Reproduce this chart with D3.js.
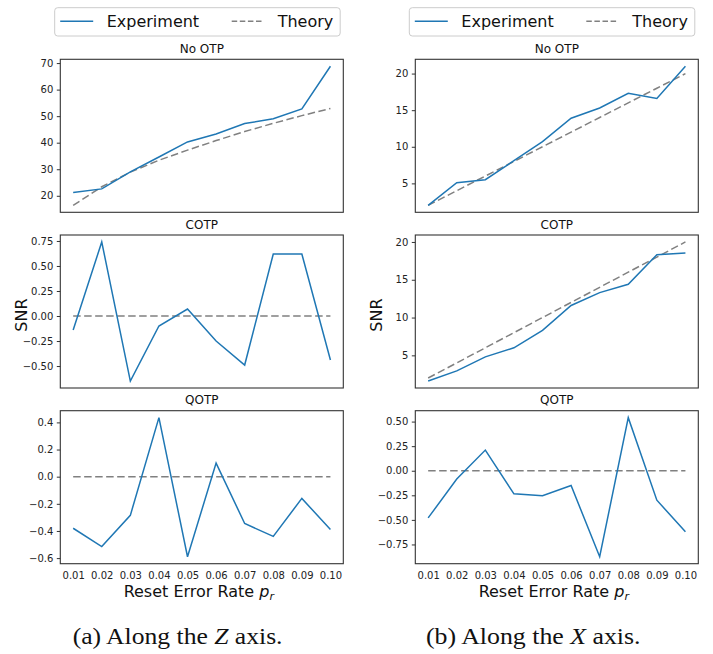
<!DOCTYPE html>
<html>
<head>
<meta charset="utf-8">
<script src="https://cdn.jsdelivr.net/npm/d3@7"></script>
<style>
  html, body { margin: 0; padding: 0; background: #fff; }
  svg { display: block; }
  text { font-family: "DejaVu Sans", sans-serif; }
  text.caption { font-family: "Liberation Serif", "Times New Roman", serif; }
</style>
</head>
<body>
<svg id="chart" width="713" height="654"></svg>
<script>
// ---------------- data ----------------
const xVals = [0.01, 0.02, 0.03, 0.04, 0.05, 0.06, 0.07, 0.08, 0.09, 0.10];
const xTickLabels = ["0.01", "0.02", "0.03", "0.04", "0.05", "0.06", "0.07", "0.08", "0.09", "0.10"];
const seriesNames = ["Experiment", "Theory"];
const panelTitles = ["No OTP", "COTP", "QOTP"];
const captions = [["(a) Along the ", "Z", " axis."], ["(b) Along the ", "X", " axis."]];

// Z axis (left column)
const zNoOtpExp = [21.2, 22.6, 29.0, 34.6, 40.3, 43.3, 47.2, 49.0, 52.7, 68.8];
const zNoOtpTheory = [16.4, 23.4, 28.9, 33.4, 37.2, 40.8, 44.2, 47.3, 50.2, 52.9];
const zCotpExp = [-0.14, 0.74, -0.65, -0.10, 0.07, -0.25, -0.49, 0.62, 0.62, -0.44];
const zCotpTheory = [0, 0, 0, 0, 0, 0, 0, 0, 0, 0];
const zQotpExp = [-0.38, -0.515, -0.285, 0.435, -0.59, 0.10, -0.345, -0.44, -0.16, -0.39];
const zQotpTheory = [0, 0, 0, 0, 0, 0, 0, 0, 0, 0];

// X axis (right column)
const xNoOtpExp = [2.0, 5.1, 5.5, 8.1, 10.7, 13.9, 15.3, 17.3, 16.6, 21.0];
const xNoOtpTheory = [2, 4, 6, 8, 10, 12, 14, 16, 18, 20];
const xCotpExp = [1.6, 2.95, 4.8, 6.0, 8.3, 11.6, 13.3, 14.4, 18.3, 18.55];
const xCotpTheory = [2, 4, 6, 8, 10, 12, 14, 16, 18, 20];
const xQotpExp = [-0.48, -0.085, 0.21, -0.235, -0.255, -0.15, -0.875, 0.54, -0.30, -0.62];
const xQotpTheory = [0, 0, 0, 0, 0, 0, 0, 0, 0, 0];

// y tick values
const zNoOtpTicks = [20, 30, 40, 50, 60, 70];
const zCotpTicks = [-0.5, -0.25, 0, 0.25, 0.5, 0.75];
const zQotpTicks = [-0.6, -0.4, -0.2, 0, 0.2, 0.4];
const xNoOtpTicks = [5, 10, 15, 20];
const xCotpTicks = [5, 10, 15, 20];
const xQotpTicks = [-0.75, -0.5, -0.25, 0, 0.25, 0.5];

// ---------------- layout ----------------
const colLeft = [60.3, 415.3];
const colWidth = 283;
const rowTop = [59.3, 235, 410.7];
const rowHeight = 153;
const expColor = "#1f77b4";
const theoryColor = "#808080";

const panels = [
  [
    { exp: zNoOtpExp, th: zNoOtpTheory, ticks: zNoOtpTicks, fmt: d3.format("d") },
    { exp: zCotpExp, th: zCotpTheory, ticks: zCotpTicks, fmt: d3.format(".2f") },
    { exp: zQotpExp, th: zQotpTheory, ticks: zQotpTicks, fmt: d3.format(".1f") }
  ],
  [
    { exp: xNoOtpExp, th: xNoOtpTheory, ticks: xNoOtpTicks, fmt: d3.format("d") },
    { exp: xCotpExp, th: xCotpTheory, ticks: xCotpTicks, fmt: d3.format("d") },
    { exp: xQotpExp, th: xQotpTheory, ticks: xQotpTicks, fmt: d3.format(".2f") }
  ]
];

const svg = d3.select("#chart");
svg.append("rect").attr("width", 713).attr("height", 654).attr("fill", "#fff");

panels.forEach((col, ci) => {
  const left = colLeft[ci];
  const xPad = (xVals[xVals.length - 1] - xVals[0]) * 0.05;
  const x = d3.scaleLinear()
    .domain([xVals[0] - xPad, xVals[xVals.length - 1] + xPad])
    .range([0, colWidth]);

  col.forEach((p, ri) => {
    const top = rowTop[ri];
    const all = p.exp.concat(p.th);
    const mn = d3.min(all), mx = d3.max(all);
    const pad = (mx - mn) * 0.05;
    const y = d3.scaleLinear().domain([mn - pad, mx + pad]).range([rowHeight, 0]);

    const g = svg.append("g").attr("transform", `translate(${left},${top})`);

    // title
    g.append("text")
      .attr("x", colWidth / 2).attr("y", -6.5)
      .attr("text-anchor", "middle")
      .attr("font-size", 12).attr("fill", "#111")
      .text(panelTitles[ri]);

    // y axis
    const ya = g.append("g").call(
      d3.axisLeft(y).tickValues(p.ticks).tickFormat(p.fmt)
        .tickSize(3.5).tickSizeOuter(0).tickPadding(3.5)
    );
    ya.select(".domain").remove();
    ya.selectAll("line").attr("stroke", "#333");
    ya.selectAll("text").attr("font-size", 10).attr("fill", "#222")
      .attr("font-family", "DejaVu Sans, sans-serif");

    // x axis (bottom row only)
    if (ri === 2) {
      const xa = g.append("g").attr("transform", `translate(0,${rowHeight})`).call(
        d3.axisBottom(x).tickValues(xVals).tickFormat((d, i) => xTickLabels[i])
          .tickSize(0).tickSizeOuter(0).tickPadding(8.2)
      );
      xa.select(".domain").remove();
      xa.selectAll("text").attr("font-size", 10).attr("fill", "#222")
        .attr("font-family", "DejaVu Sans, sans-serif");
    }

    const line = d3.line().x((d, i) => x(xVals[i])).y(d => y(d));

    g.append("path").datum(p.th)
      .attr("d", line).attr("fill", "none")
      .attr("stroke", theoryColor).attr("stroke-width", 1.5)
      .attr("stroke-dasharray", "7.5,3.5");

    g.append("path").datum(p.exp)
      .attr("d", line).attr("fill", "none")
      .attr("stroke", expColor).attr("stroke-width", 1.5)
      .attr("stroke-linejoin", "miter");

    // frame
    g.append("rect").attr("width", colWidth).attr("height", rowHeight)
      .attr("fill", "none").attr("stroke", "#333").attr("stroke-width", 1.1);
  });

  // SNR label
  svg.append("text")
    .attr("transform", `translate(${left - 33},315) rotate(-90)`)
    .attr("text-anchor", "middle")
    .attr("font-size", 16).attr("fill", "#111")
    .text("SNR");

  // x label
  const xl = svg.append("text")
    .attr("x", left + colWidth / 2 - 3).attr("y", 597)
    .attr("text-anchor", "middle")
    .attr("font-size", 16).attr("fill", "#111");
  xl.append("tspan").text("Reset Error Rate ");
  xl.append("tspan").attr("font-style", "italic").text("p");
  xl.append("tspan").attr("font-style", "italic").attr("font-size", 11).attr("dy", 3).text("r");

  // legend
  const lg = svg.append("g").attr("transform", `translate(${left - 5.6 + (ci === 1 ? -0.4 : 0)},7.7)`);
  lg.append("rect").attr("width", 285.5).attr("height", 28.3).attr("rx", 3)
    .attr("fill", "#fff").attr("stroke", "#cccccc").attr("stroke-width", 1);
  const ly = 13.6;
  lg.append("line").attr("x1", 5.5).attr("x2", 38.5).attr("y1", ly).attr("y2", ly)
    .attr("stroke", expColor).attr("stroke-width", 1.5);
  lg.append("text").attr("x", 52).attr("y", ly + 5.8).attr("font-size", 16).attr("fill", "#111")
    .text(seriesNames[0]);
  lg.append("line").attr("x1", 177).attr("x2", 209).attr("y1", ly).attr("y2", ly)
    .attr("stroke", theoryColor).attr("stroke-width", 1.5).attr("stroke-dasharray", "5.5,2.6");
  lg.append("text").attr("x", 223).attr("y", ly + 5.8).attr("font-size", 16).attr("fill", "#111")
    .text(seriesNames[1]);
});

// captions
const capBox = [[72.7, 210], [426, 214.7]];
captions.forEach((c, i) => {
  const t = svg.append("text")
    .attr("class", "caption")
    .style("font-family", "'Liberation Serif', 'Times New Roman', serif")
    .attr("font-size", 23).attr("fill", "#111");
  t.append("tspan").text(c[0]);
  t.append("tspan").attr("font-style", "italic").text(c[1]);
  t.append("tspan").text(c[2]);
  const w = t.node().getBBox().width;
  t.attr("transform", `translate(${capBox[i][0]},644.3) scale(${capBox[i][1] / w},1)`);
});
</script>
</body>
</html>
